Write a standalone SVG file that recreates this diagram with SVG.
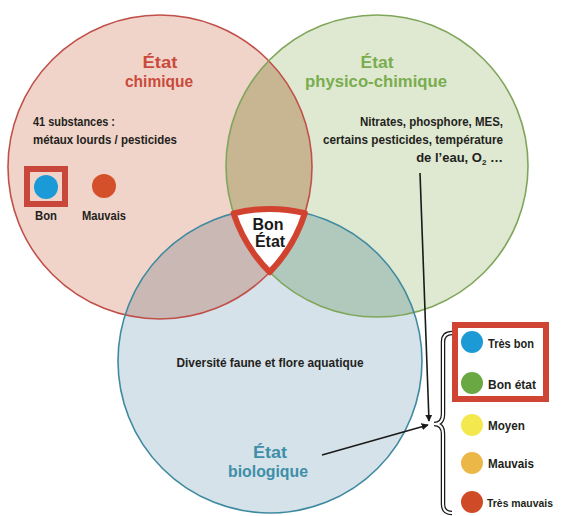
<svg xmlns="http://www.w3.org/2000/svg" width="561" height="516" viewBox="0 0 561 516">
<style>
text{font-family:"Liberation Sans",Arial,sans-serif;font-weight:bold;}
.title{font-size:17px;text-anchor:middle;}
.body{font-size:13px;fill:#231f20;}
.mid{text-anchor:middle;}
.end{text-anchor:end;}
.conn{stroke:#1a1a1a;stroke-width:1.6;fill:none;}
</style>
<defs>
<clipPath id="cRed"><circle cx="160" cy="167" r="152"/></clipPath>
<clipPath id="cGreen"><circle cx="377" cy="166" r="151"/></clipPath>
<clipPath id="cBlue"><circle cx="270" cy="361" r="152"/></clipPath>
<marker id="arr" viewBox="0 0 10 10" refX="9" refY="5" markerWidth="7" markerHeight="7" markerUnits="userSpaceOnUse" orient="auto"><path d="M0,0 L10,5 L0,10 Z" fill="#1a1a1a"/></marker>
</defs>
<rect width="561" height="516" fill="#ffffff"/>
<g id="fills">
<circle cx="160" cy="167" r="152" fill="#f1d4c9"/>
<circle cx="377" cy="166" r="151" fill="#dfe8d1"/>
<circle cx="270" cy="361" r="152" fill="#d6e2ea"/>
<g clip-path="url(#cGreen)"><circle cx="160" cy="167" r="152" fill="#c8b592"/></g>
<g clip-path="url(#cBlue)"><circle cx="160" cy="167" r="152" fill="#c9b8b4"/></g>
<g clip-path="url(#cBlue)"><circle cx="377" cy="166" r="151" fill="#b0c9bc"/></g>
</g>
<g id="chimique">
<circle cx="160" cy="167" r="152" fill="none" stroke="#c0504a" stroke-width="1.6"/>
<text class="title" x="160" y="68" fill="#c94a3c" textLength="35" lengthAdjust="spacingAndGlyphs">État</text>
<text class="title" x="159" y="87" fill="#c94a3c" textLength="68" lengthAdjust="spacingAndGlyphs">chimique</text>
<text class="body" x="33" y="126" textLength="82" lengthAdjust="spacingAndGlyphs">41 substances :</text>
<text class="body" x="33" y="144" textLength="144" lengthAdjust="spacingAndGlyphs">métaux lourds / pesticides</text>
<rect x="27" y="169" width="38" height="35" fill="none" stroke="#c8463a" stroke-width="6"/>
<circle cx="46" cy="187" r="12" fill="#1a9ad7"/>
<circle cx="104" cy="186" r="12" fill="#d4502a"/>
<text class="body mid" x="46" y="220" textLength="22" lengthAdjust="spacingAndGlyphs">Bon</text>
<text class="body mid" x="104" y="220" textLength="44" lengthAdjust="spacingAndGlyphs">Mauvais</text>
</g>
<g id="physico-chimique">
<circle cx="377" cy="166" r="151" fill="none" stroke="#7fa65a" stroke-width="1.6"/>
<text class="title" x="377" y="68" fill="#79ad4e" textLength="33" lengthAdjust="spacingAndGlyphs">État</text>
<text class="title" x="376" y="87" fill="#79ad4e" textLength="142" lengthAdjust="spacingAndGlyphs">physico-chimique</text>
<text class="body end" x="503" y="126" textLength="143" lengthAdjust="spacingAndGlyphs">Nitrates, phosphore, MES,</text>
<text class="body end" x="503" y="144" textLength="180" lengthAdjust="spacingAndGlyphs">certains pesticides, température</text>
<text class="body end" x="503" y="162">de l’eau, O<tspan font-size="8" dy="3">2</tspan><tspan dy="-3"> …</tspan></text>
</g>
<g id="biologique">
<circle cx="270" cy="361" r="152" fill="none" stroke="#3f8aa0" stroke-width="1.6"/>
<text class="body mid" x="270" y="367" textLength="187" lengthAdjust="spacingAndGlyphs">Diversité faune et flore aquatique</text>
<text class="title" x="270" y="458" fill="#3d8fa8" textLength="34" lengthAdjust="spacingAndGlyphs">État</text>
<text class="title" x="268" y="477" fill="#3d8fa8" textLength="80" lengthAdjust="spacingAndGlyphs">biologique</text>
</g>
<g id="bon-etat">
<path d="M233.6,213.4 A152,152 0 0 1 304.9,213.1 A152,152 0 0 1 269.7,272.2 A151,151 0 0 1 233.6,213.4 Z" fill="#ffffff" stroke="#d2432f" stroke-width="6" stroke-linejoin="round"/>
<text x="268" y="230" font-size="16" fill="#1a1a1a" text-anchor="middle">Bon</text>
<text x="270" y="247" font-size="16" fill="#1a1a1a" text-anchor="middle">État</text>
</g>
<g id="legend">
<rect x="455" y="325" width="91" height="74" fill="none" stroke="#cf4433" stroke-width="6"/>
<circle cx="472" cy="342" r="11" fill="#1b9ad6"/>
<circle cx="472" cy="383" r="11" fill="#6aa843"/>
<circle cx="472" cy="425" r="11" fill="#f3e94f"/>
<circle cx="472" cy="463" r="11" fill="#ebb848"/>
<circle cx="472" cy="502" r="11" fill="#cf4b27"/>
<text class="body" x="488" y="348" textLength="46" lengthAdjust="spacingAndGlyphs">Très bon</text>
<text class="body" x="488" y="389" textLength="48" lengthAdjust="spacingAndGlyphs">Bon état</text>
<text class="body" x="488" y="430" textLength="37" lengthAdjust="spacingAndGlyphs">Moyen</text>
<text class="body" x="488" y="468" textLength="46" lengthAdjust="spacingAndGlyphs">Mauvais</text>
<text class="body" x="487" y="507" style="font-size:11.3px" textLength="66" lengthAdjust="spacingAndGlyphs">Très mauvais</text>
</g>
<g id="connectors">
<path d="M452,333 Q443,333 443,342 L443,414 Q443,424 434,424 Q443,424 443,434 L443,504 Q443,513 452,513" fill="none" stroke="#1a1a1a" stroke-width="4.5"/>
<path d="M452,333 Q443,333 443,342 L443,414 Q443,424 434,424 Q443,424 443,434 L443,504 Q443,513 452,513" fill="none" stroke="#ffffff" stroke-width="2"/>
<line class="conn" x1="420" y1="173" x2="429" y2="421" marker-end="url(#arr)"/>
<line class="conn" x1="322" y1="455" x2="428" y2="425" marker-end="url(#arr)"/>
</g>
</svg>
